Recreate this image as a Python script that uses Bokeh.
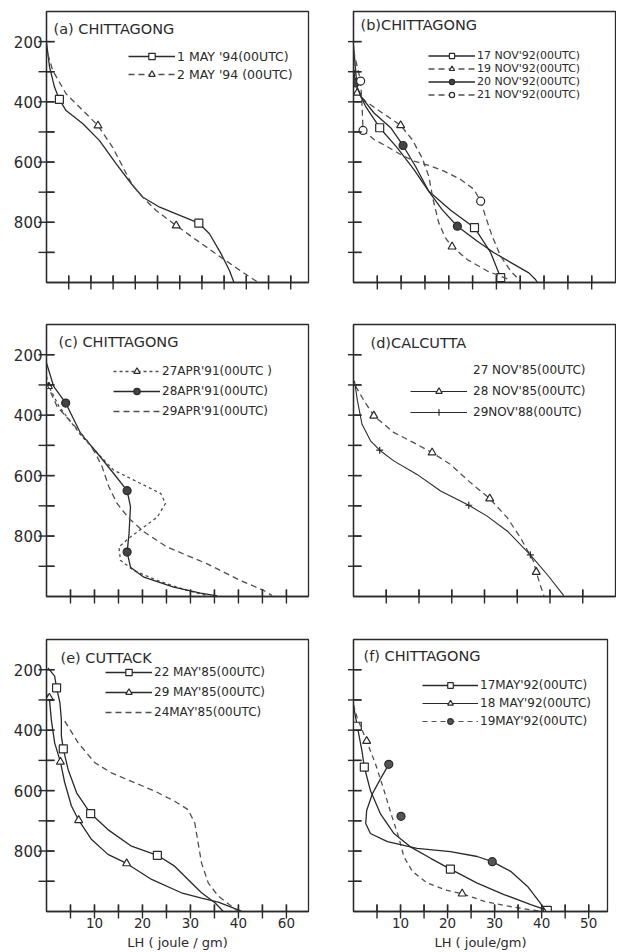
import math
from bokeh.plotting import figure
from bokeh.models import Range1d, FixedTicker, Legend, LegendItem, Label
from bokeh.layouts import column, row
from bokeh.embed import file_html
from bokeh.resources import INLINE

NAN = float("nan")

# ---------------- data (LH in joule/gm, pressure in hPa) ----------------
# (a) CHITTAGONG
a_may1_lh = [0, 0.7, 1.8, 2.9, 4.4, 8.2, 11.9, 15.7, 19.1, 21.7, 25.5, 29.2, 34.3, 36.7, 39.3, 41.2, 42.2]
a_may1_p = [203, 285, 351, 392, 429, 473, 528, 606, 672, 717, 750, 772, 803, 838, 904, 960, 999]
a_may1_mk_lh = [2.9, 34.3]
a_may1_mk_p = [392, 803]
a_may2_lh = [0.3, 1.4, 4.4, 8.2, 11.6, 14.9, 17.6, 19.4, 21.7, 24.7, 29.2, 32.9, 38.2, 42.0, 45.3, 47.6]
a_may2_p = [241, 296, 373, 429, 479, 551, 628, 678, 717, 761, 811, 850, 905, 944, 977, 999]
a_may2_mk_lh = [11.6, 29.2]
a_may2_mk_p = [479, 811]

# (b) CHITTAGONG
b_n17_lh = [0, 0.8, 2.5, 5.5, 9.2, 12.7, 15.8, 20.4, 25.4, 28.8, 30.9, 31.2]
b_n17_p = [215, 359, 414, 486, 553, 625, 697, 760, 818, 901, 984, 1000]
b_n17_mk_lh = [5.5, 25.4, 30.9]
b_n17_mk_p = [486, 818, 984]
b_n19_lh = [0, 0.8, 2.5, 6.0, 9.9, 12.3, 14.4, 15.8, 16.7, 17.9, 19.3, 20.7, 23.9, 28.1, 32.3, 33.0]
b_n19_p = [260, 370, 398, 436, 478, 525, 586, 647, 724, 802, 852, 881, 924, 962, 988, 1000]
b_n19_mk_lh = [0.8, 9.9, 20.7]
b_n19_mk_p = [370, 478, 881]
b_n20_lh = [0, 0.4, 1.5, 4.3, 7.8, 10.4, 13.0, 15.8, 18.6, 21.8, 26.0, 29.5, 33.7, 36.8, 38.2, 38.6]
b_n20_p = [293, 337, 381, 437, 486, 545, 614, 697, 758, 813, 863, 901, 940, 968, 990, 1000]
b_n20_mk_lh = [0.4, 10.4, 21.8]
b_n20_mk_p = [337, 545, 813]
b_n21_lh = [0, 1.5, 1.8, 2.0, 4.3, 7.1, 9.9, 12.7, 15.8, 19.0, 22.5, 25.3, 26.7, 27.7, 29.1, 30.9, 33.0, 34.7, 35.2]
b_n21_p = [230, 331, 414, 495, 525, 549, 575, 597, 611, 630, 658, 691, 730, 780, 846, 913, 962, 990, 1000]
b_n21_mk_lh = [1.5, 2.0, 26.7]
b_n21_mk_p = [331, 495, 730]

# (c) CHITTAGONG
c_a27_lh = [0, 0.5, 2.6, 7.1, 11.3, 14.0, 19.6, 23.8, 24.8, 23.1, 20.3, 17.5, 15.1, 15.4, 18.2, 23.1, 29.3, 33.5]
c_a27_p = [272, 305, 371, 465, 537, 582, 626, 659, 692, 737, 770, 803, 836, 880, 914, 947, 980, 997]
c_a27_mk_lh = [0.5]
c_a27_mk_p = [305]
c_a28_lh = [0, 1.5, 4.0, 7.1, 10.6, 14.0, 16.8, 17.5, 17.2, 16.8, 17.5, 20.3, 26.5, 32.1, 35.6]
c_a28_p = [227, 305, 360, 460, 526, 593, 650, 703, 792, 853, 903, 936, 969, 989, 998]
c_a28_mk_lh = [4.0, 16.8, 16.8]
c_a28_mk_p = [360, 650, 853]
c_a29_lh = [0, 2.2, 5.0, 8.1, 10.2, 11.6, 13.0, 14.7, 17.2, 20.3, 25.1, 33.5, 40.4, 45.3, 47.0]
c_a29_p = [294, 371, 421, 476, 526, 571, 637, 692, 742, 786, 836, 892, 947, 980, 997]

# (d) CALCUTTA
d_n28_lh = [0.3, 1.6, 3.1, 6.2, 9.2, 12.0, 14.8, 17.9, 20.8, 23.5, 25.5, 27.5, 27.9, 28.5, 29.1]
d_n28_p = [303, 352, 402, 458, 491, 524, 563, 624, 676, 740, 806, 884, 919, 961, 1000]
d_n28_mk_lh = [3.1, 12.0, 20.8, 27.9]
d_n28_mk_p = [402, 524, 676, 919]
d_n29_lh = [0.15, 0.6, 1.3, 2.6, 4.0, 6.2, 9.7, 13.3, 17.6, 20.4, 23.5, 27.0, 29.6, 32.1]
d_n29_p = [286, 352, 430, 485, 516, 552, 596, 651, 698, 734, 784, 862, 928, 997]
d_n29_mk_lh = [4.0, 17.6, 27.0]
d_n29_mk_p = [516, 698, 862]

# (e) CUTTACK
e_m22_lh = [0.3, 1.7, 2.1, 2.8, 3.1, 3.1, 3.5, 4.5, 6.3, 9.2, 12.8, 17.7, 23.1, 26.7, 29.5, 32.3, 35.1, 36.8]
e_m22_p = [194, 221, 260, 310, 365, 420, 462, 530, 608, 676, 729, 784, 814, 850, 894, 938, 971, 999]
e_m22_mk_lh = [2.1, 3.5, 9.2, 23.1]
e_m22_mk_p = [260, 462, 676, 814]
e_m29_lh = [0.2, 0.6, 1.0, 1.7, 2.9, 3.8, 5.2, 6.7, 9.4, 12.8, 16.7, 21.9, 28.1, 32.3, 35.8, 40.6]
e_m29_p = [282, 293, 365, 442, 505, 574, 651, 698, 762, 811, 841, 894, 938, 956, 969, 999]
e_m29_mk_lh = [0.6, 2.9, 6.7, 16.7]
e_m29_mk_p = [293, 505, 698, 841]
e_m24_lh = [3.8, 6.6, 10.1, 13.5, 18.4, 22.6, 26.7, 29.5, 30.9, 31.6, 32.3, 33.7, 35.8, 38.5, 39.9]
e_m24_p = [370, 442, 508, 541, 574, 602, 635, 663, 707, 773, 839, 905, 949, 982, 999]

# (f) CHITTAGONG
f_m17_lh = [0, 0.8, 1.8, 2.3, 3.6, 5.7, 8.6, 12.1, 16.4, 20.6, 26.3, 32.0, 37.7, 41.2, 41.6]
f_m17_p = [320, 387, 469, 522, 600, 676, 742, 786, 824, 860, 906, 944, 977, 996, 1000]
f_m17_mk_lh = [0.8, 2.3, 20.6, 41.2]
f_m17_mk_p = [387, 522, 860, 996]
f_m18_lh = [0, 0.8, 2.8, 4.7, 6.5, 8.2, 9.6, 10.7, 12.5, 15.7, 19.9, 23.1, 27.7, 32.0, 36.2, 40.0]
f_m18_p = [316, 360, 436, 513, 600, 687, 753, 818, 867, 906, 930, 941, 966, 980, 991, 1000]
f_m18_mk_lh = [2.8, 23.1]
f_m18_mk_p = [436, 941]
f_m19_lh = [7.5, 5.7, 4.0, 2.8, 2.6, 3.6, 7.2, 13.5, 20.6, 26.3, 29.5, 33.4, 37.0, 39.4, 40.9]
f_m19_p = [513, 562, 611, 666, 709, 742, 769, 791, 802, 818, 835, 867, 917, 966, 998]
f_m19_mk_lh = [7.5, 10.1, 29.5]
f_m19_mk_p = [513, 685, 835]

p_major = [200, 400, 600, 800]
p_minor = [300, 500, 700, 900]
lh_major = [10, 20, 30, 40, 50]
lh_minor = [5, 15, 25, 35, 45]
e_tick_labels = {10: "10", 20: "20", 30: "30", 40: "40", 50: "60"}

titles = ["(a) CHITTAGONG", "(b)CHITTAGONG", "(c) CHITTAGONG", "(d)CALCUTTA", "(e) CUTTACK", "(f) CHITTAGONG"]

# ---------------- styling ----------------
INK = "#2a2a2a"
INK2 = "#505050"
FONT = "DejaVu Sans"


def make_fig(xmax, fw, fh, bl, br, bt, bb, xticks, ylabels):
    p = figure(frame_width=fw, frame_height=fh, x_range=Range1d(0, xmax), y_range=Range1d(1000, 100),
               output_backend="svg", toolbar_location=None,
               min_border_left=bl, min_border_right=br, min_border_top=bt, min_border_bottom=bb)
    p.xgrid.visible = False
    p.ygrid.visible = False
    p.outline_line_color = INK
    p.outline_line_width = 1.3
    p.background_fill_color = "white"
    p.border_fill_color = "white"
    for ax in (p.xaxis, p.yaxis):
        ax.axis_line_color = INK
        ax.axis_line_width = 1.3
        ax.major_tick_out = 0
        ax.minor_tick_out = 0
        ax.major_tick_in = 0
        ax.minor_tick_in = 0
        ax.major_label_text_color = INK
        ax.major_label_text_font = FONT
    p.xaxis.ticker = FixedTicker(ticks=xticks, minor_ticks=[])
    if ylabels:
        p.yaxis.ticker = FixedTicker(ticks=p_major, minor_ticks=[])
        p.yaxis.major_label_text_font_size = "15px"
        p.yaxis.major_label_standoff = 4
    else:
        p.yaxis.ticker = FixedTicker(ticks=[], minor_ticks=[])
    p.xaxis.major_label_text_font_size = "13.5px"
    p.xaxis.major_label_standoff = 6
    return p


def add_ticks(p, xt, xmax, fw, fh):
    # inward tick marks drawn from the tick lists
    yt = sorted(p_major + p_minor)
    xlen = 7 * 900 / fh
    ylen = 8 * xmax / fw
    p.segment(x0=xt, y0=[1000] * len(xt), x1=xt, y1=[1000 - xlen] * len(xt),
              line_color=INK, line_width=1.4, level="overlay")
    p.segment(x0=[0] * len(yt), y0=yt, x1=[ylen] * len(yt), y1=yt,
              line_color=INK, line_width=1.4, level="overlay")
    p.scatter(x=xt, y=[1000] * len(xt), marker="dash", size=14, angle=math.pi / 2,
              line_color=INK, line_width=1.4, level="overlay")
    p.scatter(x=[0] * len(yt), y=yt, marker="dash", size=16,
              line_color=INK, line_width=1.4, level="overlay")


def add_title(p, text, dx, dy, xmax, fw, fh):
    p.add_layout(Label(x=dx * xmax / fw, y=100 + dy * 900 / fh, text=text, text_baseline="middle",
                       text_align="left", text_font_size="14.5px", text_color=INK, text_font=FONT))


def add_legend(p, items, x, t, fh, h, s, gw, standoff=2, fs="12px"):
    n = len(items)
    height = n * h + (n - 1) * s
    lg = Legend(items=items, location=(x, fh - t - height), padding=0, margin=0, spacing=s,
                glyph_width=gw, glyph_height=h, label_height=h, label_standoff=standoff,
                label_text_font_size=fs, label_text_font=FONT, label_text_color=INK,
                background_fill_alpha=0, border_line_alpha=0)
    p.add_layout(lg)


def sline(p, x, y, dash=None, color=INK, width=1.3):
    if dash:
        return p.line(x, y, line_color=color, line_width=width, line_dash=dash)
    return p.line(x, y, line_color=color, line_width=width)


def marks(p, x, y, marker, fill="white", size=8, color=INK):
    return p.scatter(x, y, marker=marker, size=size, fill_color=fill, line_color=color, line_width=1.2)


LW, RW, FW = 262, 262, 254
H1, H2, H3 = 271, 272, 272
XA, XB, XC, XD, XE, XF = 59.0, 55.0, 54.6, 40.0, 54.6, 54.0

# ---- (a)
pa = make_fig(XA, LW, H1, 46, 40, 11, 20, [], True)
la1 = sline(pa, a_may1_lh, a_may1_p)
ma1 = marks(pa, a_may1_mk_lh, a_may1_mk_p, "square")
la2 = sline(pa, a_may2_lh, a_may2_p, dash="6 4", color=INK2)
ma2 = marks(pa, a_may2_mk_lh, a_may2_mk_p, "triangle")
add_ticks(pa, list(range(5, 56, 5)), XA, LW, H1)
add_title(pa, titles[0], 7, 17, XA, LW, H1)
add_legend(pa, [LegendItem(label="1 MAY '94(00UTC)", renderers=[la1, ma1]),
                LegendItem(label="2 MAY '94 (00UTC)", renderers=[la2, ma2])], 82, 37, H1, 16, 2, 47,
           fs="12.5px")

# ---- (b)
pb = make_fig(XB, RW, H1, 5, 1, 11, 20, [], False)
lb1 = sline(pb, b_n17_lh, b_n17_p)
mb1 = marks(pb, b_n17_mk_lh, b_n17_mk_p, "square")
lb2 = sline(pb, b_n19_lh, b_n19_p, dash="6 4", color=INK2)
mb2 = marks(pb, b_n19_mk_lh, b_n19_mk_p, "triangle")
lb3 = sline(pb, b_n20_lh, b_n20_p)
mb3 = marks(pb, b_n20_mk_lh, b_n20_mk_p, "circle", fill="#444")
lb4 = sline(pb, b_n21_lh, b_n21_p, dash="6 4", color=INK2)
mb4 = marks(pb, b_n21_mk_lh, b_n21_mk_p, "circle")
add_ticks(pb, list(range(5, 51, 5)), XB, RW, H1)
add_title(pb, titles[1], 7, 13, XB, RW, H1)
add_legend(pb, [LegendItem(label="17 NOV'92(00UTC)", renderers=[lb1, mb1]),
                LegendItem(label="19 NOV'92(00UTC)", renderers=[lb2, mb2]),
                LegendItem(label="20 NOV'92(00UTC)", renderers=[lb3, mb3]),
                LegendItem(label="21 NOV'92(00UTC)", renderers=[lb4, mb4])], 75, 38, H1, 13, 0, 47,
           fs="11px")

# ---- (c)
pc = make_fig(XC, LW, H2, 46, 40, 22, 20, [], True)
lc1 = sline(pc, c_a27_lh, c_a27_p, dash="3 3", color=INK2)
mc1 = marks(pc, c_a27_mk_lh, c_a27_mk_p, "triangle", size=7)
lc2 = sline(pc, c_a28_lh, c_a28_p)
mc2 = marks(pc, c_a28_mk_lh, c_a28_mk_p, "circle", fill="#444")
lc3 = sline(pc, c_a29_lh, c_a29_p, dash="6 4", color=INK2)
add_ticks(pc, list(range(5, 51, 5)), XC, LW, H2)
add_title(pc, titles[2], 12, 17, XC, LW, H2)
add_legend(pc, [LegendItem(label="27APR'91(00UTC )", renderers=[lc1, mc1]),
                LegendItem(label="28APR'91(00UTC)", renderers=[lc2, mc2]),
                LegendItem(label="29APR'91(00UTC)", renderers=[lc3])], 67, 39, H2, 16, 4, 47)

# ---- (d)
pd_ = make_fig(XD, RW, H2, 5, 1, 22, 20, [], False)
ld1 = sline(pd_, d_n28_lh, d_n28_p, dash="6 4", color=INK2)
md1 = marks(pd_, d_n28_mk_lh, d_n28_mk_p, "triangle")
ld2 = sline(pd_, d_n29_lh, d_n29_p, width=1.1)
md2 = marks(pd_, d_n29_mk_lh, d_n29_mk_p, "cross", size=7)
ld0 = pd_.line([NAN], [NAN], line_alpha=0)
ldp = pd_.line([NAN], [NAN], line_color=INK, line_width=1.2)
mdp = pd_.scatter([NAN], [NAN], marker="triangle", size=8, fill_color="white", line_color=INK, line_width=1.2)
add_ticks(pd_, list(range(5, 36, 5)), XD, RW, H2)
add_title(pd_, titles[3], 17, 18, XD, RW, H2)
add_legend(pd_, [LegendItem(label="27 NOV'85(00UTC)", renderers=[ld0]),
                 LegendItem(label="28 NOV'85(00UTC)", renderers=[ldp, mdp]),
                 LegendItem(label="29NOV'88(00UTC)", renderers=[ld2, md2])], 57, 38, H2, 16, 5, 57, 6)

# ---- (e)
pe = make_fig(XE, LW, H3, 46, 40, 23, 38, lh_major, True)
pe.xaxis.major_label_overrides = e_tick_labels
le1 = sline(pe, e_m22_lh, e_m22_p)
me1 = marks(pe, e_m22_mk_lh, e_m22_mk_p, "square")
le2 = sline(pe, e_m29_lh, e_m29_p)
me2 = marks(pe, e_m29_mk_lh, e_m29_mk_p, "triangle")
le3 = sline(pe, e_m24_lh, e_m24_p, dash="6 4", color=INK2)
add_ticks(pe, sorted(lh_major + lh_minor), XE, LW, H3)
pe.xaxis.axis_label = "LH ( joule / gm)"
add_title(pe, titles[4], 14, 18, XE, LW, H3)
add_legend(pe, [LegendItem(label="22 MAY'85(00UTC)", renderers=[le1, me1]),
                LegendItem(label="29 MAY'85(00UTC)", renderers=[le2, me2]),
                LegendItem(label="24MAY'85(00UTC)", renderers=[le3])], 59, 25, H3, 16, 4, 47)

# ---- (f)
pf = make_fig(XF, FW, H3, 5, 8, 23, 38, lh_major, False)
lf1 = sline(pf, f_m17_lh, f_m17_p)
mf1 = marks(pf, f_m17_mk_lh, f_m17_mk_p, "square")
lf2 = sline(pf, f_m18_lh, f_m18_p, dash="5 4", color=INK2)
mf2 = marks(pf, f_m18_mk_lh, f_m18_mk_p, "triangle")
lf3 = sline(pf, f_m19_lh, f_m19_p)
mf3 = marks(pf, f_m19_mk_lh, f_m19_mk_p, "circle", fill="#555")
lfp2 = pf.line([NAN], [NAN], line_color=INK, line_width=1.2)
mfp2 = pf.scatter([NAN], [NAN], marker="triangle", size=8, fill_color="white", line_color=INK, line_width=1.2)
lfp3 = pf.line([NAN], [NAN], line_color=INK2, line_width=1.2, line_dash="5 4")
mfp3 = pf.scatter([NAN], [NAN], marker="circle", size=8, fill_color="#555", line_color=INK, line_width=1.2)
add_ticks(pf, sorted(lh_major + lh_minor), XF, FW, H3)
pf.xaxis.axis_label = "LH ( joule/gm)"
add_title(pf, titles[5], 10, 16, XF, FW, H3)
add_legend(pf, [LegendItem(label="17MAY'92(00UTC)", renderers=[lf1, mf1]),
                LegendItem(label="18 MAY'92(00UTC)", renderers=[lfp2, mfp2]),
                LegendItem(label="19MAY'92(00UTC)", renderers=[lfp3, mfp3])], 69, 39, H3, 14, 4, 56)

for p in (pe, pf):
    p.xaxis.axis_label_text_font = FONT
    p.xaxis.axis_label_text_font_style = "normal"
    p.xaxis.axis_label_text_font_size = "13px"
    p.xaxis.axis_label_text_color = INK
    p.xaxis.axis_label_standoff = 4

layout = column(row(pa, pb), row(pc, pd_), row(pe, pf))
open("out.html", "w").write(file_html(layout, INLINE))
